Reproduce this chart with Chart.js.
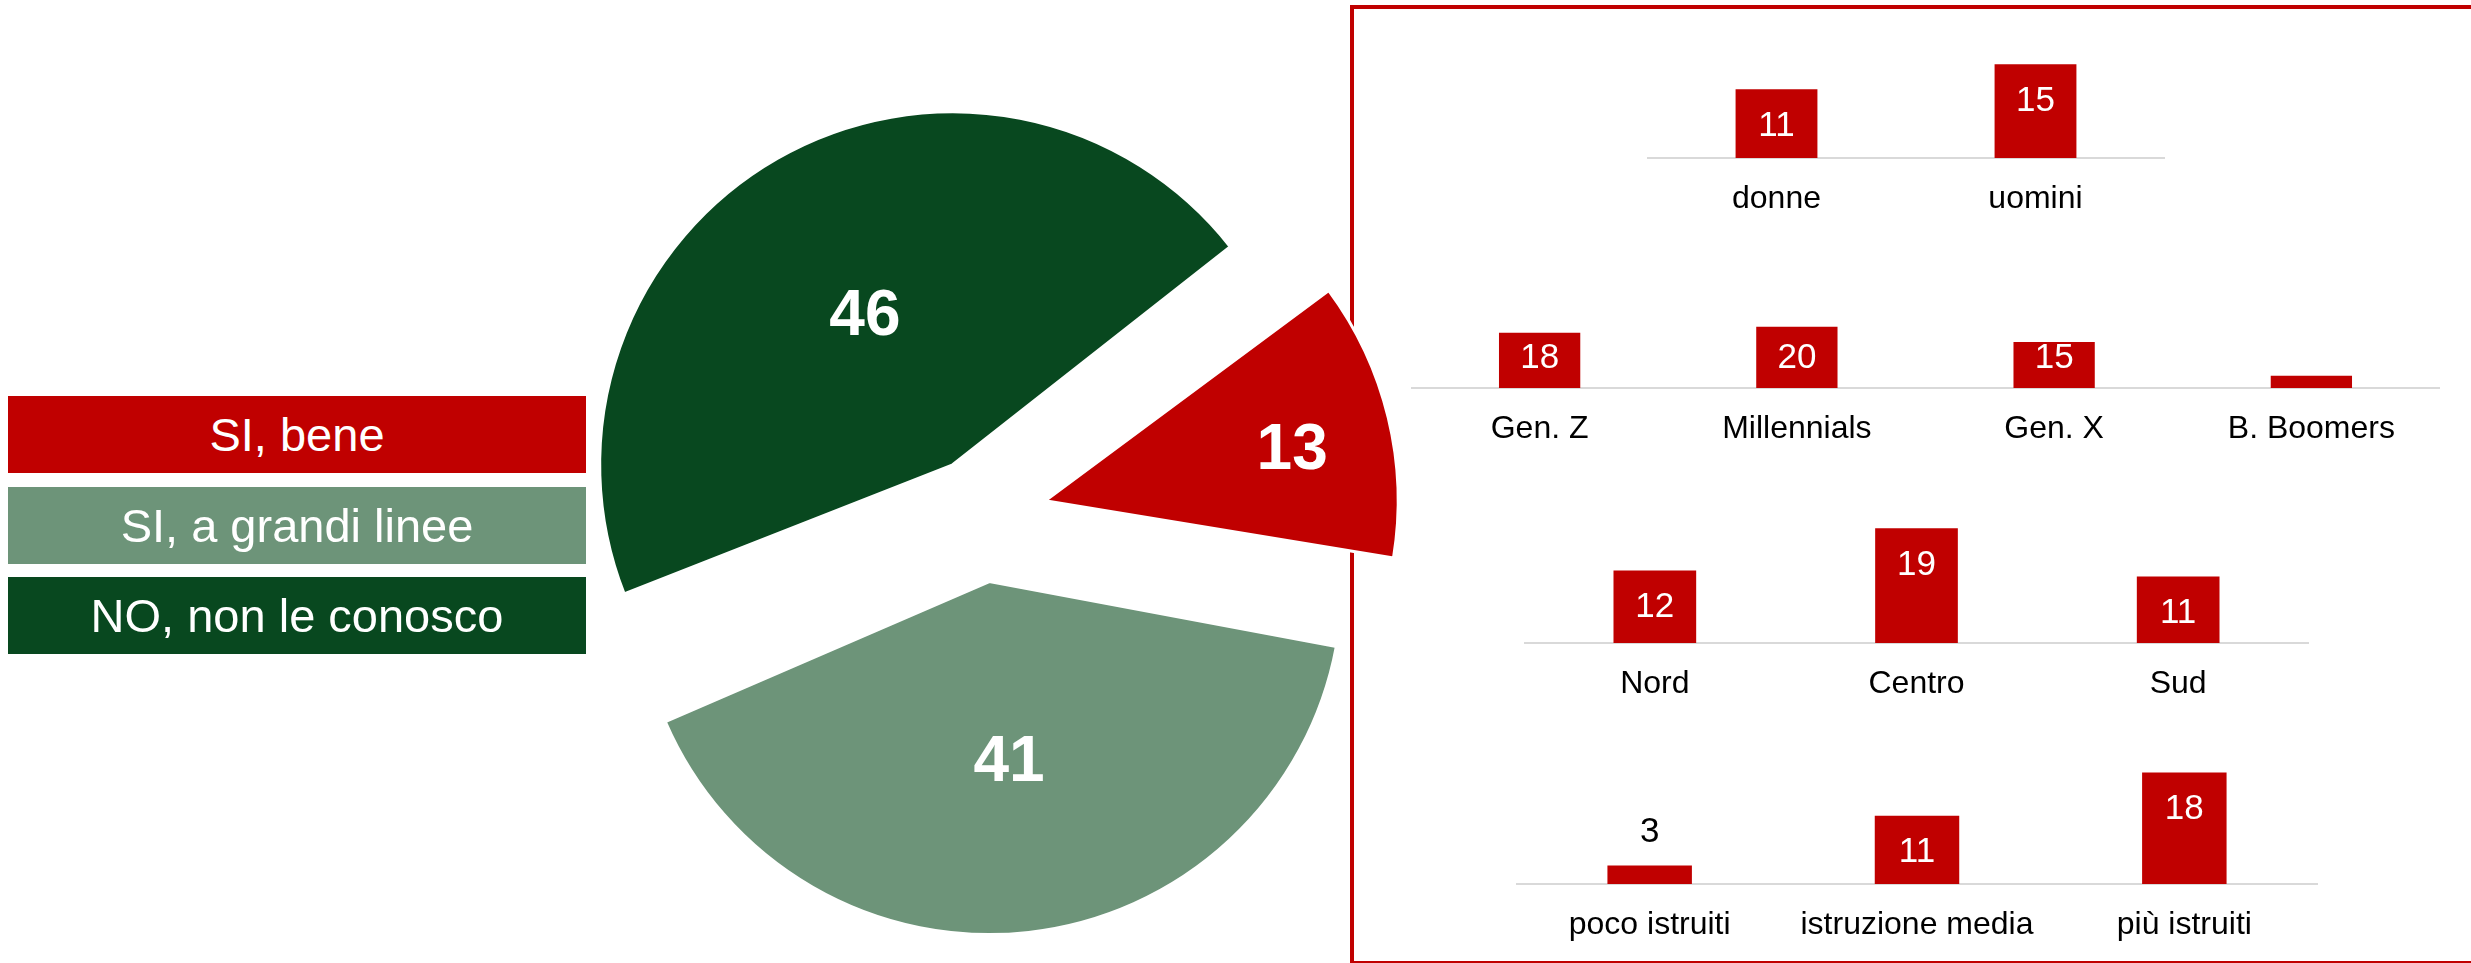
<!DOCTYPE html>
<html>
<head>
<meta charset="utf-8">
<script src="https://cdn.jsdelivr.net/npm/chart.js@4.4.1/dist/chart.umd.min.js"></script>
<style>
  html, body { margin: 0; padding: 0; background: #fff; overflow: hidden; }
  body { width: 2471px; height: 963px; position: relative; font-family: 'Liberation Sans', Arial, sans-serif; }
  canvas { position: absolute; }
  #frame { position: absolute; left: 1350px; top: 5px; width: 1200px; height: 952px; border: 4px solid #c00000; }
  .leg { position: absolute; left: 8px; width: 578px; height: 77px; line-height: 77px; color: #fff; font-size: 47px; text-align: center; }
</style>
</head>
<body>
<div id="frame"></div>
<canvas id="sexChart"></canvas>
<canvas id="genChart"></canvas>
<canvas id="areaChart"></canvas>
<canvas id="eduChart"></canvas>
<canvas id="pieChart" width="900" height="940" style="left:532px;top:46px;width:900px;height:940px"></canvas>
<div id="legend"></div>
<script>
// pie: do you know ... ?
const pieLabels = ['SI, bene', 'SI, a grandi linee', 'NO, non le conosco']
const pieValues = [13, 41, 46]
const pieColors = ['#c00000', '#6d9479', '#08481f']
const pieOffsets = [260, 264, 236]      // exploded slices
const pieLabelPos = [0.72, 0.5, 0.5]    // label distance, share of radius
const pieLabelDy = [10, 6, 6]
const PIE_R = 353

// breakdowns of "SI, bene"
const sexLabels = ['donne', 'uomini']
const sexValues = [11, 15]

const genLabels = ['Gen. Z', 'Millennials', 'Gen. X', 'B. Boomers']
const genValues = [18, 20, 15, 4]
const genValueLabels = ['18', '20', '15', '']

const areaLabels = ['Nord', 'Centro', 'Sud']
const areaValues = [12, 19, 11]

const eduLabels = ['poco istruiti', 'istruzione media', 'più istruiti']
const eduValues = [3, 11, 18]

const FONT = "'Liberation Sans', Arial, sans-serif"
const RED = '#c00000'

// legend boxes
const legendTops = [396, 487, 577]
pieLabels.forEach((l, i) => {
  const d = document.createElement('div')
  d.className = 'leg'
  d.style.top = legendTops[i] + 'px'
  d.style.background = pieColors[i]
  d.textContent = l
  document.getElementById('legend').appendChild(d)
})

const pieFix = {
  id: 'pieFix',
  afterDatasetsUpdate(chart) {
    // keep all slices the same visible radius when offset
    chart.getDatasetMeta(0).data.forEach((arc, i) => {
      const t = pieOffsets[i] / 4
      const fix = 1 - Math.sin(Math.min(Math.PI, arc.circumference))
      arc.outerRadius = PIE_R - t * fix
    })
  },
  afterDatasetsDraw(chart) {
    const ctx = chart.ctx
    ctx.save()
    ctx.font = 'bold 64px ' + FONT
    ctx.fillStyle = '#fff'
    ctx.textAlign = 'center'
    ctx.textBaseline = 'middle'
    chart.getDatasetMeta(0).data.forEach((arc, i) => {
      const mid = (arc.startAngle + arc.endAngle) / 2
      const d = pieOffsets[i] / 4 + pieLabelPos[i] * PIE_R
      ctx.fillText(String(pieValues[i]), arc.x + Math.cos(mid) * d, arc.y + Math.sin(mid) * d + pieLabelDy[i])
    })
    ctx.restore()
  }
}

new Chart(document.getElementById('pieChart'), {
  type: 'pie',
  data: {
    labels: pieLabels,
    datasets: [{
      data: pieValues,
      backgroundColor: pieColors,
      borderColor: '#fff',
      borderWidth: 3,
      offset: pieOffsets,
      radius: PIE_R
    }]
  },
  options: {
    responsive: false,
    animation: false,
    rotation: 53,
    layout: { padding: 0 },
    plugins: { legend: { display: false }, tooltip: { enabled: false } }
  },
  plugins: [pieFix]
})

// value labels on the bars
const barLabels = {
  id: 'barLabels',
  afterDatasetsDraw(chart, args, opts) {
    const ctx = chart.ctx
    ctx.save()
    ctx.font = '35px ' + FONT
    ctx.textAlign = 'center'
    ctx.textBaseline = 'middle'
    chart.getDatasetMeta(0).data.forEach((bar, i) => {
      const txt = opts.texts[i]
      if (!txt) return
      if (bar.base - bar.y < 30) {
        ctx.fillStyle = '#000'
        ctx.fillText(txt, bar.x, bar.y - 33)
      } else {
        ctx.fillStyle = '#fff'
        ctx.fillText(txt, bar.x, Math.min(bar.y + 37, bar.base - 30))
      }
    })
    ctx.restore()
  }
}

function barChart(id, labels, values, texts, left, width, base, areaH, yMax) {
  const el = document.getElementById(id)
  const h = areaH + 72
  el.width = width
  el.height = h
  el.style.left = left + 'px'
  el.style.top = (base - areaH) + 'px'
  el.style.width = width + 'px'
  el.style.height = h + 'px'
  new Chart(el, {
    type: 'bar',
    data: {
      labels: labels,
      datasets: [{ data: values, backgroundColor: RED, barPercentage: 0.316, categoryPercentage: 1 }]
    },
    options: {
      responsive: false,
      animation: false,
      layout: { padding: 0 },
      scales: {
        x: {
          grid: { display: false, drawTicks: false },
          border: { display: true, color: '#d9d9d9', width: 2 },
          ticks: { color: '#000', font: { size: 32, family: FONT }, padding: 22 },
          afterFit: s => { s.height = 72 }
        },
        y: { display: false, min: 0, max: yMax }
      },
      plugins: { legend: { display: false }, tooltip: { enabled: false }, barLabels: { texts: texts } }
    },
    plugins: [barLabels]
  })
}

barChart('sexChart', sexLabels, sexValues, sexValues.map(String), 1647, 518, 158, 125, 20)
barChart('genChart', genLabels, genValues, genValueLabels, 1411, 1029, 388, 92, 30)
barChart('areaChart', areaLabels, areaValues, areaValues.map(String), 1524, 785, 643, 145, 24)
barChart('eduChart', eduLabels, eduValues, eduValues.map(String), 1516, 802, 884, 124, 20)
</script>
</body>
</html>
